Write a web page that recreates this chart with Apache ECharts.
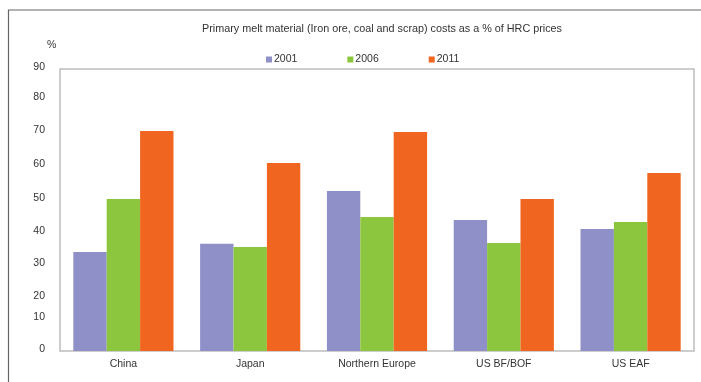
<!DOCTYPE html>
<html><head><meta charset="utf-8">
<script src="https://cdn.jsdelivr.net/npm/echarts@6/dist/echarts.min.js"></script>
<style>html,body{margin:0;padding:0;background:#fff}#c{width:701px;height:382px}</style>
</head><body><div id="c"></div>
<script>
const categories = ['China', 'Japan', 'Northern Europe', 'US BF/BOF', 'US EAF'];
const seriesNames = ['2001', '2006', '2011'];
const v2001 = [31.6, 34.2, 51.1, 41.8, 38.9];
const v2006 = [48.5, 33.2, 42.8, 34.5, 41.2];
const v2011 = [70.2, 60.0, 69.9, 48.5, 56.8];
const yTicks = [0, 10, 20, 30, 40, 50, 60, 70, 80, 90];
const titleText = 'Primary melt material (Iron ore, coal and scrap) costs as a % of HRC prices';

// styling: the reference's tick labels sit slightly off their ticks (px, + = down)
const labelShift = {0: -2, 10: -3, 20: 8, 30: 6, 40: 5, 50: 4, 60: 1, 70: -2, 80: -3, 90: -2};

const colors = ['#8f90c8', '#8cc63e', '#f0651f'];
const font = 'Liberation Sans';
const chart = echarts.init(document.getElementById('c'), null, {renderer: 'canvas'});
const data = [v2001, v2006, v2011];
const rich = {};
yTicks.forEach(t => {
  const d = labelShift[t] || 0;
  rich['t' + t] = {fontSize: 10.5, color: '#333', fontFamily: font,
    padding: d >= 0 ? [2 * d, 0, 0, 0] : [0, 0, -2 * d, 0]};
});
chart.setOption({
  animation: false,
  backgroundColor: '#fff',
  textStyle: {fontFamily: font},
  title: {text: titleText, left: 377, top: 19, textAlign: 'center',
    textStyle: {fontSize: 10.8, fontWeight: 'normal', color: '#333', fontFamily: font}},
  legend: {left: 261, top: 49, itemWidth: 6, itemHeight: 6, itemGap: 50, icon: 'rect',
    textStyle: {fontSize: 10.5, color: '#333', padding: [0, 0, 0, -3]}, data: seriesNames},
  graphic: [
    {type: 'rect', shape: {x: 8.5, y: 10, width: 760, height: 420}, style: {fill: 'none', stroke: '#666', lineWidth: 1.2}, silent: true},
    {type: 'text', left: 47, top: 40, style: {text: '%', fontSize: 10.5, fill: '#333', fontFamily: font}}
  ],
  grid: {left: 60, right: 7, top: 69, bottom: 31, show: true, borderColor: '#bdbdbd', borderWidth: 1.5, backgroundColor: 'transparent'},
  xAxis: {type: 'category', data: categories,
    axisLine: {show: false}, axisTick: {show: false},
    axisLabel: {fontSize: 10.5, color: '#333', margin: 8}},
  yAxis: {type: 'value', min: 0, max: 90, interval: 10,
    axisLine: {show: false}, axisTick: {show: false}, splitLine: {show: false},
    axisLabel: {margin: 15, rich: rich,
      formatter: v => yTicks.includes(v) ? '{t' + v + '|' + v + '}' : ''}},
  series: seriesNames.map((n, i) => ({
    name: n, type: 'bar', data: data[i], barGap: '0%', barCategoryGap: '21%',
    itemStyle: {color: colors[i]}
  }))
});
</script></body></html>
